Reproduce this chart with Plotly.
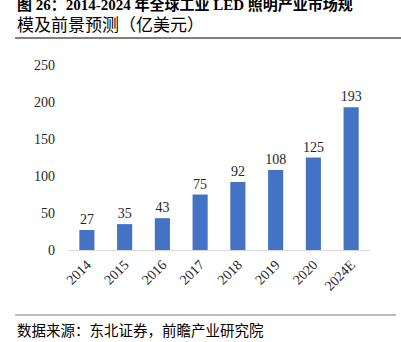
import plotly.graph_objects as go

categories = ["2014", "2015", "2016", "2017", "2018", "2019", "2020", "2024E"]
values = [27, 35, 43, 75, 92, 108, 125, 193]
y_ticks = [0, 50, 100, 150, 200, 250]

W, H = 401, 342
L, R, T, B = 68, 31, 65, 92
pw, ph = W - L - R, H - T - B

def px(x):
    return (x - L) / pw

def py(y):
    return (H - B - y) / ph

serif = "Liberation Serif, Noto Sans CJK SC"
cjk = "Noto Sans CJK SC"

fig = go.Figure(go.Bar(
    x=categories, y=values, width=0.4,
    marker=dict(color="#4472C4", line=dict(width=0)),
    text=[str(v) for v in values], textposition="outside",
    textfont=dict(family=serif, size=14, color="#262626"),
    constraintext="none",
    cliponaxis=False,
))

fig.update_layout(
    width=W, height=H, margin=dict(l=L, r=R, t=T, b=B),
    paper_bgcolor="white", plot_bgcolor="white",
    showlegend=False, bargap=0.6,
    xaxis=dict(showline=True, linecolor="#D9D9D9", linewidth=1, ticks="",
               tickangle=-45, tickfont=dict(family=serif, size=14, color="#262626"),
               showgrid=False),
    yaxis=dict(range=[0, 250], tickvals=y_ticks, showgrid=False, zeroline=False,
               showline=False, ticks="", ticklabelstandoff=12,
               tickfont=dict(family=serif, size=14, color="#262626")),
    annotations=[
        dict(text="<b>图 26：2014-2024 年全球工业 LED 照明产业市场规</b>", xref="paper", yref="paper",
             x=px(15), y=py(4), xanchor="left", yanchor="middle", showarrow=False,
             font=dict(family=serif, size=15, color="#000000")),
        dict(text="模及前景预测（亿美元）", xref="paper", yref="paper",
             x=px(15), y=py(23), xanchor="left", yanchor="middle", showarrow=False,
             font=dict(family=cjk, size=17, color="#000000")),
        dict(text="数据来源：东北证券，前瞻产业研究院", xref="paper", yref="paper",
             x=px(15), y=py(329), xanchor="left", yanchor="middle", showarrow=False,
             font=dict(family=cjk, size=14.5, color="#000000")),
    ],
    shapes=[
        dict(type="line", xref="paper", yref="paper", x0=px(15), x1=px(401), y0=py(38), y1=py(38),
             line=dict(color="#000000", width=1)),
        dict(type="line", xref="paper", yref="paper", x0=px(15), x1=px(396), y0=py(315), y1=py(315),
             line=dict(color="#7F7F7F", width=1)),
    ],
)

fig.write_html("out.html")
